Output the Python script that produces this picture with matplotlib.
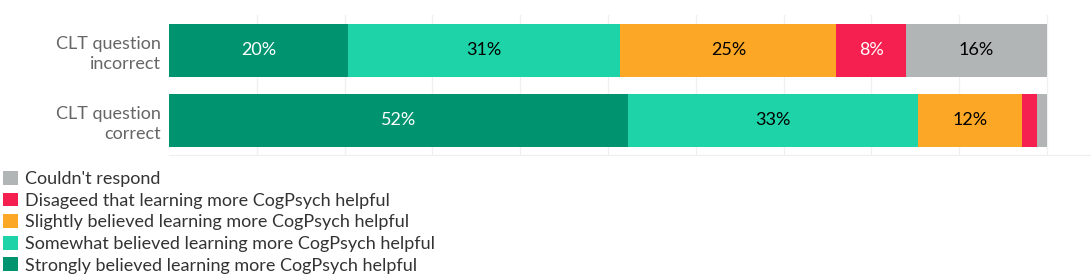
import matplotlib
matplotlib.use("Agg")
import matplotlib.pyplot as plt
import numpy as np
from matplotlib.patches import Patch

plt.rcParams["font.family"] = ["Lato", "DejaVu Sans"]

groups = ["CLT question\nincorrect", "CLT question\ncorrect"]
series = [
    "Strongly believed learning more CogPsych helpful",
    "Somewhat believed learning more CogPsych helpful",
    "Slightly believed learning more CogPsych helpful",
    "Disageed that learning more CogPsych helpful",
    "Couldn't respond",
]
strongly = [20.4, 52.3]
somewhat = [31.0, 33.0]
slightly = [24.6, 11.8]
disagreed = [7.9, 1.8]
couldnt = [16.1, 1.1]

colors = ["#009370", "#1dd3a7", "#fca726", "#f5204f", "#b1b5b5"]
text_colors = ["white", "black", "black", "white", "black"]

fig = plt.figure(figsize=(10.91, 2.75), dpi=100)
ax = fig.add_axes([169 / 1091, 1 - 155 / 275, 922 / 1091, 140 / 275])

y = np.arange(len(groups))
left = np.zeros(len(groups))
for vals, col, tcol in zip([strongly, somewhat, slightly, disagreed, couldnt], colors, text_colors):
    vals = np.array(vals, dtype=float)
    ax.barh(y, vals, left=left, height=0.757, color=col, zorder=2)
    for yi, (l, v) in enumerate(zip(left, vals)):
        if v >= 5:
            ax.text(l + v / 2, yi, f"{v:.0f}%", ha="center", va="center",
                    color=tcol, fontsize=13, zorder=3)
    left += vals

ax.set_xlim(0, 105)
ax.set_ylim(1.493, -0.507)
ax.set_yticks(y)
ax.set_yticklabels(groups, fontsize=13, color="#666666", linespacing=1.3)
ax.set_xticks(np.arange(10, 101, 10))
ax.set_xticklabels([])
ax.tick_params(length=0, pad=6)
ax.grid(axis="x", color="#f0f0f0", lw=1, zorder=0)
for side in ["top", "right", "left"]:
    ax.spines[side].set_visible(False)
ax.spines["bottom"].set_color("#eeeeee")

handles = [Patch(facecolor=c, edgecolor="none") for c in colors[::-1]]
fig.legend(handles, series[::-1], loc="upper left", bbox_to_anchor=(0.003, 0.378),
           frameon=False, fontsize=13, handlelength=0.8, handleheight=0.8,
           handletextpad=0.4, labelspacing=0.3, borderaxespad=0, borderpad=0,
           labelcolor="#333333")

fig.savefig("out.png", dpi=100)
